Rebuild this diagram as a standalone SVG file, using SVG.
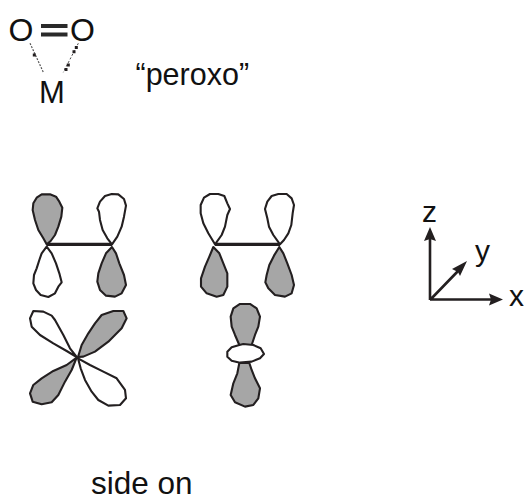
<svg xmlns="http://www.w3.org/2000/svg" width="524" height="497" viewBox="0 0 524 497">
<style>
text{font-family:"Liberation Sans",Arial,sans-serif;font-size:30px;fill:#111}
.g{fill:#a6a6a6;stroke:#231f20;stroke-width:6.300;stroke-linejoin:round}
.w{fill:#fff;stroke:#231f20;stroke-width:6.300;stroke-linejoin:round}
.b{stroke:#231f20;stroke-width:10;fill:none}
.ax{stroke:#231f20;stroke-width:2.600;fill:none}
.ah{fill:#231f20}
</style>
<rect width="524" height="497" fill="#fff"/>
<g id="peroxo">
<text x="8.500" y="41" style="font-size:32px">O</text>
<text x="70" y="41" style="font-size:32px">O</text>
<text x="39" y="102.500" style="font-size:31px">M</text>
<path d="M41 26H67.500M41 34.500H67.500" stroke="#2a2a2a" stroke-width="4" fill="none"/>
<path d="M30 43.300L43.300 72.300" stroke="#555" stroke-width="1.200" stroke-dasharray="2 1.300" fill="none"/>
<path d="M78.300 43.300L63.300 72.300" stroke="#444" stroke-width="1" stroke-dasharray="2 2" fill="none"/>
<path d="M32.800 53.500h3v3h-3zM74.800 46h3v3h-3zM72.500 50.300h3v3h-3zM66.800 63.500h3v3h-3zM64.500 68h3v3h-3z" fill="#231f20"/>
<text x="135.500" y="85" style="font-size:30.500px">“peroxo”</text>
</g>
<g id="pi-bonding" transform="translate(20 185) scale(.3333)">
<path class="b" d="M80 178H276"/>
<polygon class="g" points="80,178 70,160 55,135 45,105 38,75 40,55 50,38 65,28 90,28 108,35 118,50 127,68 124,95 115,125 105,150 92,168"/>
<polygon class="w" points="80,185 65,205 58,225 50,250 42,270 40,295 48,315 62,330 85,336 105,325 115,305 125,292 118,265 108,235 95,205"/>
<polygon class="w" points="276,178 262,160 248,135 240,105 237,80 232,70 240,50 255,33 275,27 295,28 312,42 318,62 312,95 305,125 292,155"/>
<polygon class="g" points="276,186 258,205 245,235 235,265 232,290 240,315 258,332 285,335 305,325 318,300 312,270 298,235 288,205"/>
</g>
<g id="pi-d-orbital" transform="translate(20 185) scale(.3333)">
<polygon class="w" points="170,516 150,490 130,450 105,405 95,392 70,380 40,378 30,400 35,425 60,450 100,475 140,498"/>
<polygon class="g" points="174,516 185,480 205,445 225,415 245,390 280,378 310,378 320,400 305,430 265,470 225,500 190,515"/>
<polygon class="g" points="170,518 140,540 100,558 65,580 40,600 30,625 38,650 65,658 95,652 115,630 135,590 155,555"/>
<polygon class="w" points="174,520 210,540 250,560 290,580 315,615 318,640 300,660 265,662 235,645 215,620 195,585 182,550"/>
</g>
<g id="pi-antibonding" transform="translate(190 185) scale(.3333)">
<path class="b" d="M75 178H270"/>
<polygon class="w" points="75,178 55,145 40,115 32,85 32,60 42,38 60,27 85,27 103,33 112,55 120,72 112,90 105,125 95,150"/>
<polygon class="g" points="70,186 58,215 45,245 33,280 33,305 50,325 80,335 100,330 112,305 112,265 100,235 88,205"/>
<polygon class="w" points="270,178 250,150 237,125 232,100 225,72 232,50 245,33 265,27 290,27 305,40 312,60 308,85 304,120 295,145 282,165"/>
<polygon class="g" points="268,186 252,212 238,240 230,270 226,292 235,310 255,330 285,335 305,325 312,300 305,270 292,235 280,205"/>
</g>
<g id="pi-dz2" transform="translate(190 185) scale(.3333)">
<polygon class="g" points="148,480 135,450 125,425 122,395 130,370 150,357 180,357 200,370 210,395 205,425 195,450 185,480"/>
<polygon class="g" points="148,534 142,565 130,595 122,630 135,652 165,665 190,660 205,640 210,610 195,580 185,555 178,534"/>
<polygon class="w" points="148,480 125,487 112,500 112,515 125,527 150,533 185,530 210,520 222,507 212,490 190,480 160,477"/>
</g>
<g id="axes">
<path class="ax" d="M430 300V236M430 299.500H492M430 300L459 270"/>
<path class="ah" d="M430 227L436 241L430 239L424 241Z"/>
<path class="ah" d="M503 299.500L489 293.500L491 299.500L489 305.500Z"/>
<path class="ah" d="M467 261L452 269L458 272L460 276Z"/>
<text x="422" y="222" style="font-size:30px">z</text>
<text x="475" y="261" style="font-size:30px">y</text>
<text x="509" y="306" style="font-size:30px">x</text>
</g>
<text id="caption" x="91" y="494" style="font-size:31.500px">side on</text>
</svg>
